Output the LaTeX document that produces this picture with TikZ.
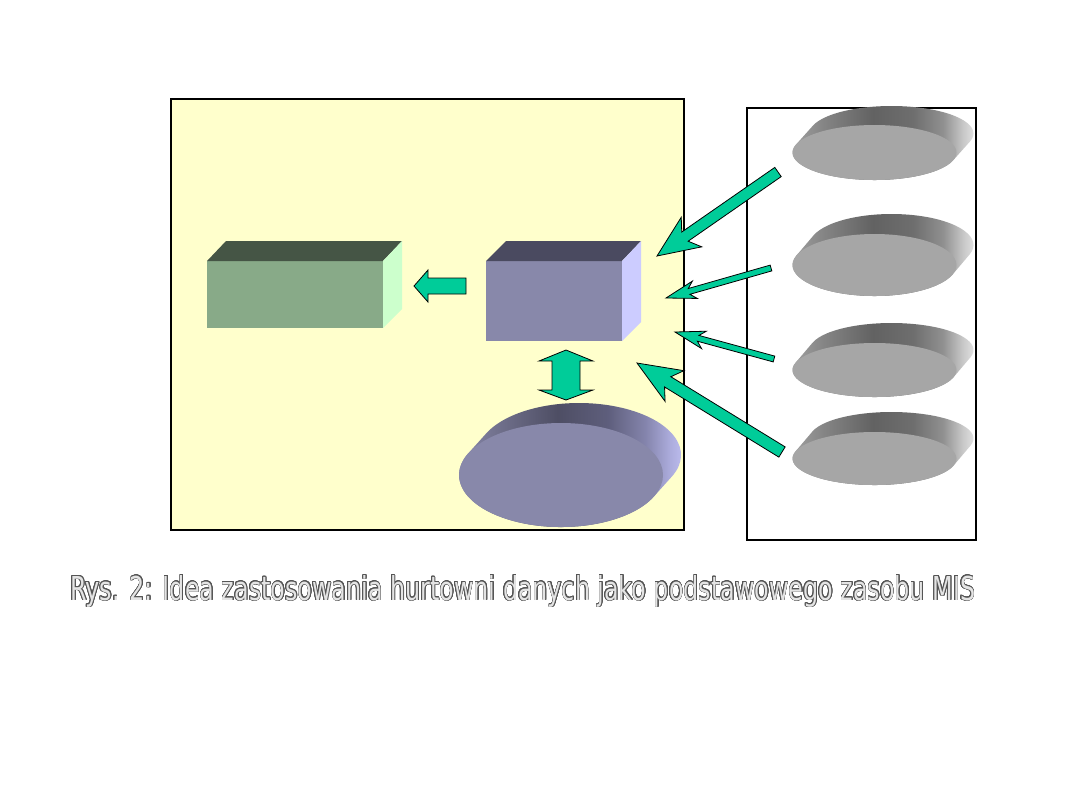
\documentclass[tikz,border=0pt]{standalone}
\usepackage{fontspec}
\newfontfamily\capfont{DejaVu Sans Condensed}
\usepackage{contour}
\usetikzlibrary{calc}
\definecolor{paleyellow}{HTML}{FFFFCC}
\definecolor{arrowgreen}{HTML}{00CC99}
\definecolor{gfront}{HTML}{88AA88}
\definecolor{gtop}{HTML}{455545}
\definecolor{gside}{HTML}{CCFFCC}
\definecolor{bfront}{HTML}{8888AA}
\definecolor{btop}{HTML}{4A4A60}
\definecolor{bside}{HTML}{CCCCFF}
\definecolor{dfront}{HTML}{A6A6A6}
\definecolor{capfill}{HTML}{E4E4E4}
\definecolor{capline}{HTML}{555555}
% gray band colours
\definecolor{ga}{HTML}{A8A8A8}
\definecolor{gb}{HTML}{858585}
\definecolor{gc}{HTML}{626262}
\definecolor{gd}{HTML}{6E6E6E}
\definecolor{ge}{HTML}{909090}
\definecolor{gf}{HTML}{C8C8C8}
\definecolor{gg}{HTML}{F4F4F4}
% blue band colours
\definecolor{ba}{HTML}{9090B8}
\definecolor{bb}{HTML}{72728E}
\definecolor{bc}{HTML}{4E4E64}
\definecolor{bd}{HTML}{5E5E7C}
\definecolor{be}{HTML}{8484AC}
\definecolor{bf}{HTML}{ACACDC}
\definecolor{bg}{HTML}{CCCCFF}
\pgfdeclarehorizontalshading{grayband}{100bp}{color(0bp)=(ga); color(25bp)=(ga); color(35bp)=(gb); color(47.5bp)=(gc); color(57.5bp)=(gd); color(65bp)=(ge); color(70bp)=(gf); color(75bp)=(gg); color(100bp)=(gg)}
\pgfdeclarehorizontalshading{blueband}{100bp}{color(0bp)=(ba); color(25bp)=(ba); color(35bp)=(bb); color(47.5bp)=(bc); color(57.5bp)=(bd); color(65bp)=(be); color(70bp)=(bf); color(75bp)=(bg); color(100bp)=(bg)}
\tikzset{
  panel/.style={line width=1pt, draw=black},
  blockarrow/.style={fill=arrowgreen, draw=black, line width=0.4pt, line join=miter},
}
% #1 name, #2 cx, #3 cy, #4 rx, #5 ry, #6 dx, #7 dy, #8 shading, #9 front colour
\newcommand\dbcyl[9]{%
  \coordinate (#1) at (#2,#3);
  \pgfmathsetmacro\tA{atan(-(#5)*(#6)/((#4)*(#7)))}%
  \pgfmathsetmacro\tB{\tA-180}%
  \pgfmathsetmacro\tC{\tA+180}%
  \path[shading=#8] ($(#1)+({(#4)*cos(\tA)},{(#5)*sin(\tA)})$) -- ++(#6,#7)
     arc[start angle=\tA, end angle=\tB, x radius=#4, y radius=#5]
     -- ++({-1*(#6)},{-1*(#7)})
     arc[start angle=\tC, end angle=\tA, x radius=#4, y radius=#5] -- cycle;
  \fill[#9] (#1) ellipse[x radius=#4, y radius=#5];
}
% #1 start, #2 tip, #3 shaft half width, #4 head half width, #5 head length, #6 join length (pt)
\newcommand\barrow[6]{%
  \draw[blockarrow] (#2)
    -- ($($(#2)!#5!(#1)$)!#4!90:(#1)$)
    -- ($($(#2)!#6!(#1)$)!#3!90:(#1)$)
    -- ($(#1)!#3!-90:(#2)$)
    -- ($(#1)!#3!90:(#2)$)
    -- ($($(#2)!#6!(#1)$)!#3!-90:(#1)$)
    -- ($($(#2)!#5!(#1)$)!#4!-90:(#1)$)
    -- cycle;
}
\begin{document}
\begin{tikzpicture}[x=0.5pt,y=-0.5pt]
\useasboundingbox[fill=white] (0,0) rectangle (1080,810);
% panels
\draw[panel, fill=paleyellow] (171,99) rectangle (684,530);
\draw[panel, fill=white] (747,108) rectangle (976,540);
% green box (reports)
\coordinate (g1) at (207,261);
\coordinate (g2) at (383,328);
\fill[gfront] (g1) rectangle (g2);
\fill[gtop] (g1) -- ++(19,-20) -- (402,241) -- (383,261) -- cycle;
\fill[gside] (383,261) -- (402,241) -- (402,309) -- (g2) -- cycle;
% blue box (warehouse)
\coordinate (b1) at (486,261);
\coordinate (b2) at (622,341);
\fill[bfront] (b1) rectangle (b2);
\fill[btop] (b1) -- ++(20,-20) -- (641,241) -- (622,261) -- cycle;
\fill[bside] (622,261) -- (641,241) -- (641,322) -- (b2) -- cycle;
% warehouse database
\dbcyl{wdb}{561}{475}{102}{52}{18}{-20}{blueband}{bfront}
% source databases
\dbcyl{s1}{874.5}{152.5}{82}{27.5}{17}{-19}{grayband}{dfront}
\dbcyl{s2}{874.5}{265}{82}{31}{17}{-20}{grayband}{dfront}
\dbcyl{s3}{874.5}{370}{82}{27}{17}{-20}{grayband}{dfront}
\dbcyl{s4}{874.5}{458.5}{82}{26.5}{17}{-20}{grayband}{dfront}
% left arrow
\draw[blockarrow] (414,286) -- (428,270) -- (428,278) -- (466,278) -- (466,294) -- (428,294) -- (428,302) -- cycle;
% double arrow
\draw[blockarrow] (566,350) -- (593,361) -- (580,361) -- (580,390) -- (593,390) -- (566,400) -- (539,390) -- (552,390) -- (552,361) -- (539,361) -- cycle;
% arrows from sources
\coordinate (a1s) at (778,172);
\coordinate (a1t) at (657,256);
\coordinate (a2s) at (771,268);
\coordinate (a2t) at (666,298);
\coordinate (a3s) at (774,359);
\coordinate (a3t) at (675,332);
\coordinate (a4s) at (782,452);
\coordinate (a4t) at (637,363);
\barrow{a1s}{a1t}{2.8pt}{9pt}{21pt}{17pt}
\barrow{a2s}{a2t}{1.5pt}{4.5pt}{15pt}{12pt}
\barrow{a3s}{a3t}{1.5pt}{4.5pt}{15pt}{12pt}
\barrow{a4s}{a4t}{3pt}{9pt}{22pt}{18pt}
% caption
\contourlength{0.25pt}
\contournumber{20}
\node[anchor=base west, inner sep=0pt] (cap) at (70,600) {\resizebox{452.5pt}{12.5pt}{\capfont\contour{capline}{\textcolor{capfill}{Rys. 2: Idea zastosowania hurtowni danych jako podstawowego zasobu MIS}}}};
\end{tikzpicture}
\end{document}
